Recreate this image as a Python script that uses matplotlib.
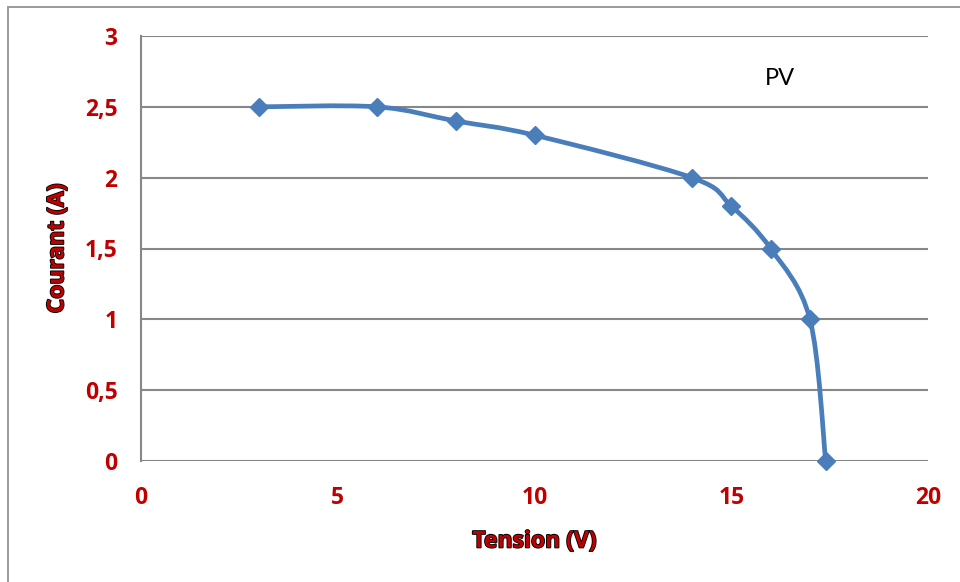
import numpy as np
import matplotlib
matplotlib.use('Agg')
import matplotlib.pyplot as plt
from matplotlib.path import Path
from matplotlib.patches import PathPatch, Rectangle
import matplotlib.patheffects as pe

# PV characteristic: voltage (V) vs current (A)
tension = [3, 6, 8, 10, 14, 15, 16, 17, 17.4]
courant = [2.5, 2.5, 2.4, 2.3, 2.0, 1.8, 1.5, 1.0, 0.0]
x_ticks = [0, 5, 10, 15, 20]
y_ticks = [0, 0.5, 1, 1.5, 2, 2.5, 3]
y_tick_labels = ['0', '0,5', '1', '1,5', '2', '2,5', '3']

line_color = '#4A7EBB'
label_red = '#C00000'
grid_gray = '#878787'

plt.rcParams['font.family'] = ['Open Sans', 'DejaVu Sans']
plt.rcParams['font.weight'] = 'bold'

fig = plt.figure(figsize=(9.6, 5.82), dpi=100)
ax = fig.add_axes([141/960, 1 - 461/582, (928-141)/960, (461-36)/582])

# outer chart frame (Excel-like)
fig.patches.append(Rectangle((8/960, -0.5), 2, 1.5 - 7/582, transform=fig.transFigure,
                             fill=False, edgecolor='#9a9a9a', linewidth=1.4))

# smooth line like Excel (Catmull-Rom -> cubic Bezier)
pts = np.column_stack([tension, courant])
ext = np.vstack([pts[0], pts, pts[-1]])
verts = [tuple(pts[0])]
codes = [Path.MOVETO]
for i in range(1, len(ext) - 2):
    p0, p1, p2, p3 = ext[i-1], ext[i], ext[i+1], ext[i+2]
    c1 = p1 + (p2 - p0) / 6
    c2 = p2 - (p3 - p1) / 6
    verts += [tuple(c1), tuple(c2), tuple(p2)]
    codes += [Path.CURVE4] * 3
ax.add_patch(PathPatch(Path(verts, codes), facecolor='none', edgecolor=line_color,
                       linewidth=3.4, capstyle='round', joinstyle='round', zorder=3,
                       clip_on=False))
ax.plot(tension, courant, linestyle='none', marker='D', markersize=9.5,
        color=line_color, zorder=4, clip_on=False)

ax.set_xlim(0, 20)
ax.set_ylim(0, 3)
ax.set_xticks(x_ticks)
ax.set_yticks(y_ticks)
ax.set_yticklabels(y_tick_labels)
ax.tick_params(length=0, labelsize=16.5, labelcolor=label_red)
ax.tick_params(axis='y', pad=17)
ax.tick_params(axis='x', pad=18)

ax.grid(axis='y', color=grid_gray, linewidth=1.5)
ax.set_axisbelow(True)
for s in ['top', 'right', 'bottom']:
    ax.spines[s].set_visible(False)
ax.spines['left'].set_color(grid_gray)
ax.spines['left'].set_linewidth(1.5)

outline = [pe.Stroke(linewidth=1.3, foreground='black'), pe.Normal()]
ax.set_xlabel('Tension (V)', fontsize=16.5, fontweight='bold', color=label_red,
              labelpad=14, path_effects=outline)
ax.set_ylabel('Courant (A)', fontsize=16.5, fontweight='bold', color=label_red,
              labelpad=11, path_effects=outline)

ax.text(15.85, 2.7, 'PV', fontsize=17, fontweight='normal', color='black',
        family=['Lato', 'DejaVu Sans'], ha='left', va='center')

fig.savefig('out.png', dpi=100)
